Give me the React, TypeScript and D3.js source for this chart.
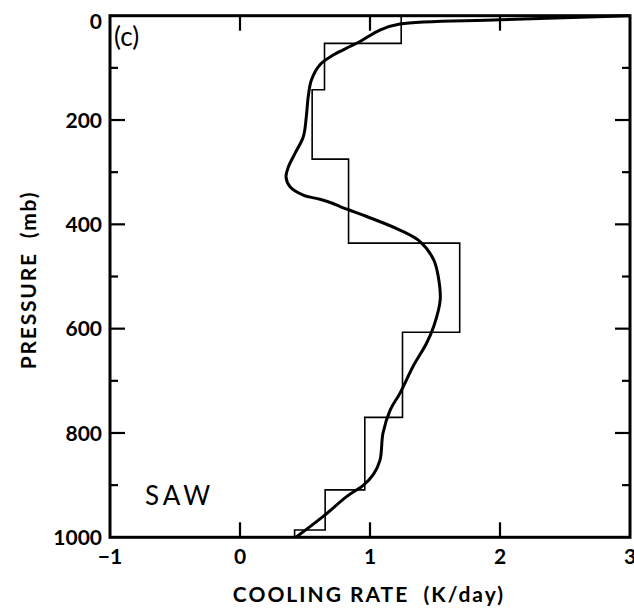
import React from "react";
import * as d3 from "d3";

// Step profile (layer boundaries in mb, cooling rate per layer in K/day)
const stepBounds = [0, 53, 142, 275, 436, 607, 770, 909, 986, 1000];
const stepRates = [1.24, 0.65, 0.555, 0.835, 1.69, 1.25, 0.96, 0.655, 0.42];

// Smooth profile: pressure (mb) and cooling rate (K/day)
const curvePressure = [0, 8, 16, 27, 50, 59, 75, 94, 123, 155, 194, 232, 264, 290, 309, 328, 344, 352, 360, 366, 373, 385, 411, 433, 468, 500, 545, 596, 628, 673, 724, 756, 800, 852, 880, 900, 922, 960, 1000];
const curveRate = [3.0, 2.0, 1.23, 1.08, 0.92, 0.846, 0.72, 0.615, 0.55, 0.525, 0.51, 0.487, 0.423, 0.372, 0.354, 0.385, 0.487, 0.615, 0.715, 0.77, 0.846, 0.975, 1.23, 1.385, 1.49, 1.525, 1.54, 1.49, 1.435, 1.33, 1.23, 1.155, 1.10, 1.077, 1.025, 0.95, 0.82, 0.64, 0.43];

const xTicks = [-1, 0, 1, 2, 3];
const xTickLabels = ["\u22121", "0", "1", "2", "3"];
const yMajor = [0, 200, 400, 600, 800, 1000];
const yMinor = [100, 300, 500, 700, 900];

const W = 634;
const H = 610;
const left = 110, right = 630, top = 15.7, bottom = 537.3;

export default function App() {
  const x = d3.scaleLinear().domain([-1, 3]).range([left, right]);
  const y = d3.scaleLinear().domain([0, 1000]).range([top, bottom]);

  const stepPts: [number, number][] = [];
  stepRates.forEach((r, i) => {
    stepPts.push([x(r), y(stepBounds[i])]);
    stepPts.push([x(r), y(stepBounds[i + 1])]);
  });
  const stepPath = d3.line()(stepPts) || "";

  const curvePts: [number, number][] = curvePressure.map((p, i) => [x(curveRate[i]), y(p)]);
  const curvePath = d3.line().curve(d3.curveCatmullRom.alpha(0.5))(curvePts) || "";

  const font = "Lato, 'DejaVu Sans', sans-serif";

  return (
    <svg width={W} height={H} style={{ position: "absolute", left: 0, top: 0, background: "#fff" }}>
      <rect x={0} y={0} width={W} height={H} fill="#fff" />
      {/* data */}
      <path d={stepPath} fill="none" stroke="#000" strokeWidth={1.6} />
      <path d={curvePath} fill="none" stroke="#000" strokeWidth={3} strokeLinejoin="round" />
      {/* frame */}
      <rect x={left} y={top} width={right - left} height={bottom - top} fill="none" stroke="#000" strokeWidth={3} />
      {/* x ticks top and bottom */}
      {xTicks.slice(1, -1).map((t) => (
        <g key={"xt" + t}>
          <line x1={x(t)} x2={x(t)} y1={bottom} y2={bottom - 15} stroke="#000" strokeWidth={2.2} />
          <line x1={x(t)} x2={x(t)} y1={top} y2={top + 15} stroke="#000" strokeWidth={2.2} />
        </g>
      ))}
      {xTicks.map((t, i) => (
        <text key={"xl" + t} x={x(t)} y={564} textAnchor="middle" fontFamily={font} fontWeight="bold" fontSize={21}>
          {xTickLabels[i]}
        </text>
      ))}
      {/* y ticks left and right */}
      {yMajor.slice(1, -1).map((t) => (
        <g key={"ym" + t}>
          <line x1={left} x2={left + 15} y1={y(t)} y2={y(t)} stroke="#000" strokeWidth={2.2} />
          <line x1={right} x2={right - 15} y1={y(t)} y2={y(t)} stroke="#000" strokeWidth={2.2} />
        </g>
      ))}
      {yMinor.map((t) => (
        <g key={"yn" + t}>
          <line x1={left} x2={left + 8} y1={y(t)} y2={y(t)} stroke="#000" strokeWidth={2.2} />
          <line x1={right} x2={right - 8} y1={y(t)} y2={y(t)} stroke="#000" strokeWidth={2.2} />
        </g>
      ))}
      {yMajor.map((t) => (
        <text key={"yl" + t} x={102} y={Math.max(y(t), 21)} dy="0.36em" textAnchor="end" fontFamily={font} fontWeight="bold" fontSize={21}>
          {t}
        </text>
      ))}
      {/* axis titles */}
      <text x={369} y={602} textAnchor="middle" fontFamily={font} fontWeight="bold" fontSize={21} letterSpacing={2} style={{ whiteSpace: "pre" }}>
        {"COOLING RATE  (K/day)"}
      </text>
      <text transform={`translate(36, ${280}) rotate(-90)`} textAnchor="middle" fontFamily={font} fontWeight="bold" fontSize={21} letterSpacing={1.8} style={{ whiteSpace: "pre" }}>
        {"PRESSURE  (mb)"}
      </text>
      {/* annotations */}
      <text x={114} y={46} fontFamily={font} fontSize={26}>(c)</text>
      <text x={145} y={505} fontFamily={font} fontSize={26} letterSpacing={4}>SAW</text>
    </svg>
  );
}
